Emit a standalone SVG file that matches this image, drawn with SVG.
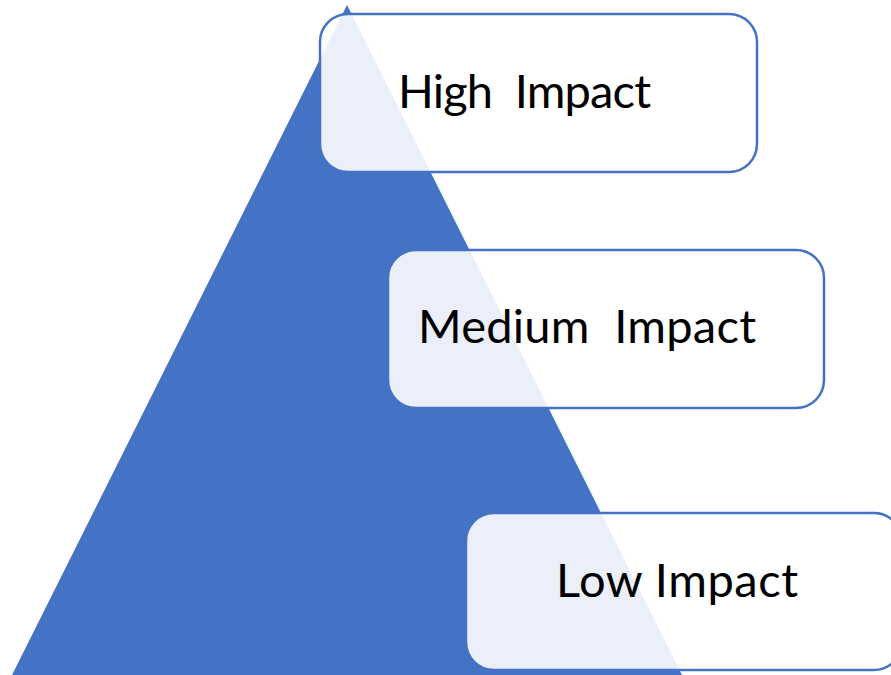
<svg xmlns="http://www.w3.org/2000/svg" width="891" height="675" viewBox="0 0 891 675">
<style>
.box{fill:#ffffff;fill-opacity:0.89;stroke:#4472C4;stroke-width:2.5}
.lbl{font-family:Lato,"Open Sans",sans-serif;font-size:47px;fill:#000000;white-space:pre}
</style>
<rect width="891" height="675" fill="#ffffff"/>
<g id="pyramid"><polygon points="347,5 12,675 682,675" fill="#4472C4"/></g>
<g id="connectors"></g>
<g id="high"><rect class="box" x="320" y="14" width="437" height="158" rx="28"/><text class="lbl" x="398" y="108" textLength="253" lengthAdjust="spacing" xml:space="preserve">High  Impact</text></g>
<g id="medium"><rect class="box" x="388" y="250" width="436" height="158" rx="28"/><text class="lbl" x="418" y="343" textLength="338" lengthAdjust="spacing" xml:space="preserve">Medium  Impact</text></g>
<g id="low"><rect class="box" x="466" y="513" width="436" height="157" rx="28"/><text class="lbl" x="556" y="597" textLength="242" lengthAdjust="spacing">Low Impact</text></g>
</svg>
